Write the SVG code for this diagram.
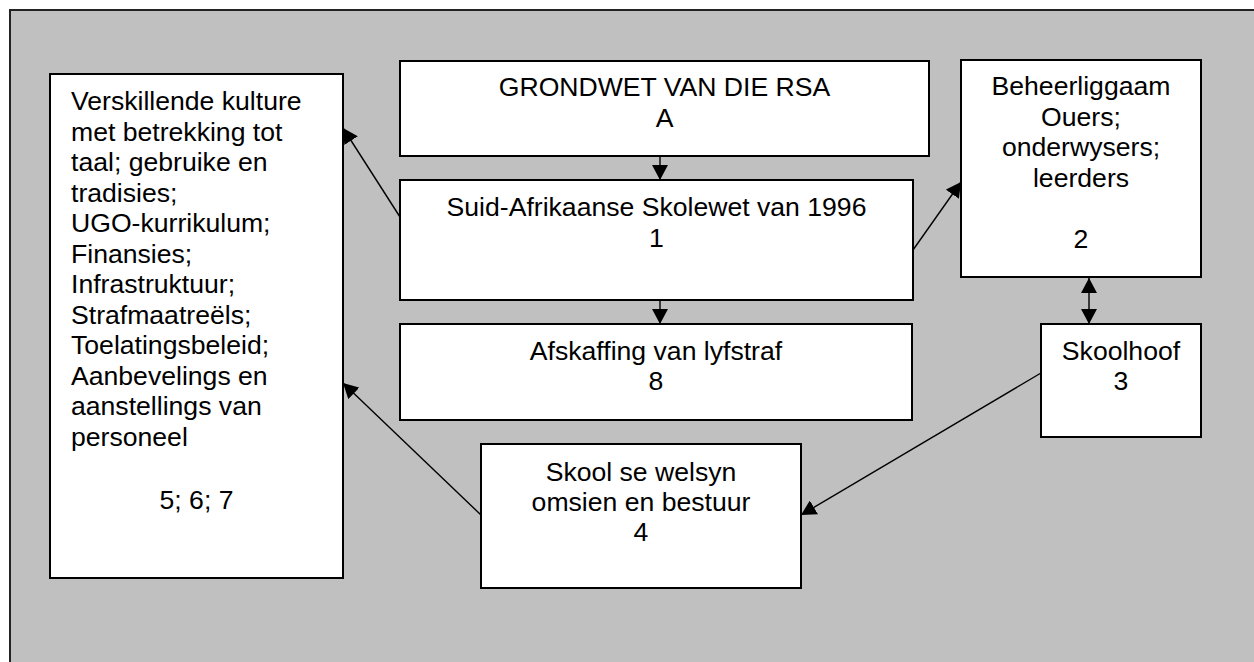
<svg xmlns="http://www.w3.org/2000/svg" width="1254" height="662" viewBox="0 0 1254 662">
  <style>
    .box { fill: #ffffff; stroke: #000000; stroke-width: 2; }
    .lbl { font-family: "Liberation Sans", Arial, sans-serif; font-size: 26.6px; fill: #000000; }
    .mid { text-anchor: middle; }
    .edge { fill: none; stroke: #000000; stroke-width: 1.4; }
  </style>
  <defs>
    <marker id="arrow" viewBox="0 0 15 16" refX="15" refY="8" markerWidth="15" markerHeight="16" markerUnits="userSpaceOnUse" orient="auto-start-reverse">
      <path d="M0,0 L15,8 L0,16 Z" fill="#000000"/>
    </marker>
  </defs>

  <rect x="0" y="0" width="1254" height="662" fill="#ffffff"/>
  <!-- background panel -->
  <rect id="panel" x="10" y="10" width="1260" height="670" fill="#c0c0c0" stroke="#222222" stroke-width="2"/>

  <g id="connectors">
    <line class="edge" x1="660" y1="157" x2="660" y2="180" marker-end="url(#arrow)"/>
    <line class="edge" x1="660" y1="301" x2="660" y2="324" marker-end="url(#arrow)"/>
    <line class="edge" x1="1089" y1="278" x2="1089" y2="324" marker-start="url(#arrow)" marker-end="url(#arrow)"/>
    <line class="edge" x1="913" y1="250" x2="961" y2="182" marker-end="url(#arrow)"/>
    <line class="edge" x1="400" y1="217" x2="343" y2="128" marker-end="url(#arrow)"/>
    <line class="edge" x1="1041" y1="373" x2="801" y2="515" marker-end="url(#arrow)"/>
    <line class="edge" x1="481" y1="515" x2="343" y2="383" marker-end="url(#arrow)"/>
  </g>

  <g id="node-567">
    <rect class="box" x="50" y="74" width="293" height="504"/>
    <text class="lbl" x="71" y="110">Verskillende kulture</text>
    <text class="lbl" x="71" y="140.5">met betrekking tot</text>
    <text class="lbl" x="71" y="171">taal; gebruike en</text>
    <text class="lbl" x="71" y="201.5">tradisies;</text>
    <text class="lbl" x="71" y="232">UGO-kurrikulum;</text>
    <text class="lbl" x="71" y="262.5">Finansies;</text>
    <text class="lbl" x="71" y="293">Infrastruktuur;</text>
    <text class="lbl" x="71" y="323.5">Strafmaatreëls;</text>
    <text class="lbl" x="71" y="354">Toelatingsbeleid;</text>
    <text class="lbl" x="71" y="384.5">Aanbevelings en</text>
    <text class="lbl" x="71" y="415">aanstellings van</text>
    <text class="lbl" x="71" y="445.5">personeel</text>
    <text class="lbl mid" x="196.5" y="509">5; 6; 7</text>
  </g>

  <g id="node-A">
    <rect class="box" x="400" y="61" width="529" height="95"/>
    <text class="lbl mid" x="664.5" y="96">GRONDWET VAN DIE RSA</text>
    <text class="lbl mid" x="664.5" y="127">A</text>
  </g>

  <g id="node-1">
    <rect class="box" x="400" y="180" width="513" height="120"/>
    <text class="lbl mid" x="656.5" y="216">Suid-Afrikaanse Skolewet van 1996</text>
    <text class="lbl mid" x="656.5" y="247">1</text>
  </g>

  <g id="node-8">
    <rect class="box" x="400" y="324" width="512" height="96"/>
    <text class="lbl mid" x="656" y="360">Afskaffing van lyfstraf</text>
    <text class="lbl mid" x="656" y="390">8</text>
  </g>

  <g id="node-2">
    <rect class="box" x="961" y="60" width="240" height="217"/>
    <text class="lbl mid" x="1081" y="95">Beheerliggaam</text>
    <text class="lbl mid" x="1081" y="125.5">Ouers;</text>
    <text class="lbl mid" x="1081" y="156">onderwysers;</text>
    <text class="lbl mid" x="1081" y="186.5">leerders</text>
    <text class="lbl mid" x="1081" y="247.5">2</text>
  </g>

  <g id="node-3">
    <rect class="box" x="1041" y="324" width="160" height="113"/>
    <text class="lbl mid" x="1121" y="360">Skoolhoof</text>
    <text class="lbl mid" x="1121" y="390">3</text>
  </g>

  <g id="node-4">
    <rect class="box" x="481" y="444" width="320" height="144"/>
    <text class="lbl mid" x="641" y="481">Skool se welsyn</text>
    <text class="lbl mid" x="641" y="511">omsien en bestuur</text>
    <text class="lbl mid" x="641" y="541">4</text>
  </g>
</svg>
